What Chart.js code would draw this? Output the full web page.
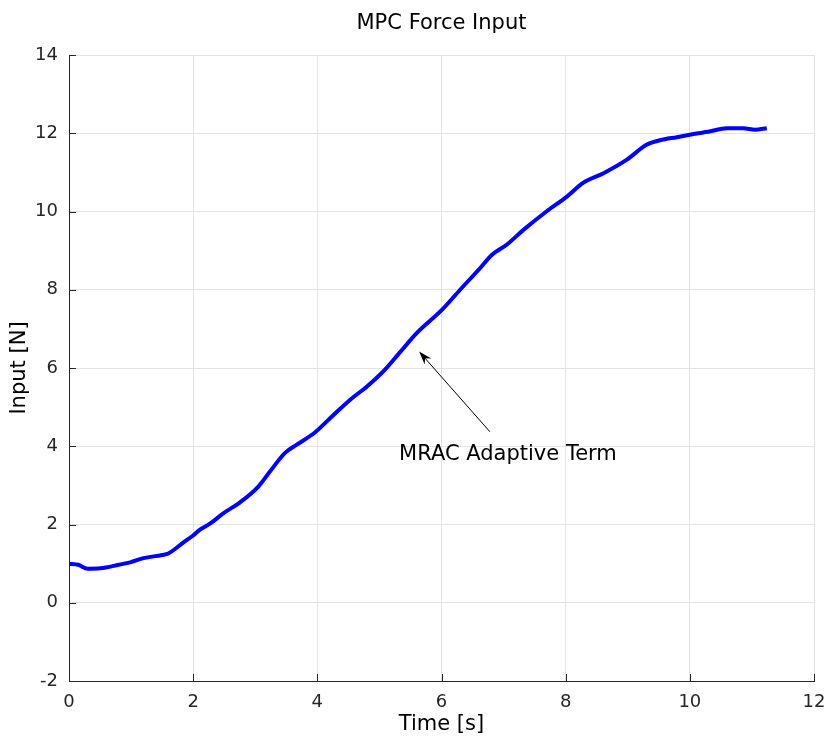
<!DOCTYPE html>
<html>
<head>
<meta charset="utf-8">
<script src="https://cdn.jsdelivr.net/npm/chart.js@4"></script>
<style>
  html, body { margin: 0; padding: 0; background: #fff; }
  #wrap { width: 828px; height: 742px; }
</style>
</head>
<body>
<div id="wrap"><canvas id="mpcChart" width="828" height="742"></canvas></div>
<script>
// values
const timeSec = [0, 0.15, 0.3, 0.5, 0.8, 1.0, 1.2, 1.5, 1.6, 1.85, 2.0, 2.11, 2.27, 2.49, 2.75, 3.05, 3.24, 3.48, 3.67, 3.96, 4.26, 4.53, 4.80, 5.09, 5.33, 5.60, 6.01, 6.30, 6.62, 6.81, 7.05, 7.32, 7.69, 8.02, 8.28, 8.61, 8.98, 9.31, 9.52, 9.79, 10.0, 10.33, 10.59, 10.86, 11.05, 11.24];
const inputN = [1.0, 0.97, 0.87, 0.88, 0.97, 1.04, 1.14, 1.22, 1.26, 1.55, 1.72, 1.87, 2.02, 2.29, 2.56, 2.97, 3.36, 3.83, 4.04, 4.35, 4.80, 5.19, 5.53, 5.96, 6.40, 6.89, 7.49, 8.0, 8.55, 8.89, 9.15, 9.53, 10.0, 10.38, 10.73, 10.98, 11.32, 11.71, 11.82, 11.90, 11.96, 12.05, 12.13, 12.13, 12.09, 12.13];
const xTicks = [0, 2, 4, 6, 8, 10, 12];
const yTicks = [-2, 0, 2, 4, 6, 8, 10, 12, 14];
const noteText = 'MRAC Adaptive Term';
const noteTextAt = [7.07, 3.80];
const noteArrowFrom = [6.78, 4.37];
const noteArrowTo = [5.64, 6.42];

const FONT = 'DejaVu Sans';
const AXIS_COLOR = '#262626';
const GRID_COLOR = '#e3e3e3';

const points = timeSec.map((t, i) => ({ x: t, y: inputN[i] }));

// MATLAB-style inward ticks plus the annotation arrow
const extras = {
    id: 'extras',
    afterDraw(chart) {
        const ctx = chart.ctx;
        const xs = chart.scales.x, ys = chart.scales.y;
        const area = chart.chartArea;
        ctx.save();
        ctx.strokeStyle = AXIS_COLOR;
        ctx.lineWidth = 1;
        ctx.beginPath();
        xTicks.forEach(v => {
            const px = Math.round(xs.getPixelForValue(v)) + 0.5;
            ctx.moveTo(px, area.bottom);
            ctx.lineTo(px, area.bottom - 7);
        });
        yTicks.forEach(v => {
            const py = Math.round(ys.getPixelForValue(v)) + 0.5;
            ctx.moveTo(area.left, py);
            ctx.lineTo(area.left + 7, py);
        });
        ctx.stroke();

        // arrow
        const x1 = xs.getPixelForValue(noteArrowFrom[0]), y1 = ys.getPixelForValue(noteArrowFrom[1]);
        const x2 = xs.getPixelForValue(noteArrowTo[0]), y2 = ys.getPixelForValue(noteArrowTo[1]);
        const ang = Math.atan2(y2 - y1, x2 - x1);
        ctx.strokeStyle = '#000';
        ctx.fillStyle = '#000';
        ctx.beginPath();
        ctx.moveTo(x1, y1);
        ctx.lineTo(x2 - 8 * Math.cos(ang), y2 - 8 * Math.sin(ang));
        ctx.stroke();
        ctx.beginPath();
        ctx.moveTo(x2, y2);
        ctx.lineTo(x2 - 14 * Math.cos(ang - 0.32), y2 - 14 * Math.sin(ang - 0.32));
        ctx.lineTo(x2 - 9 * Math.cos(ang), y2 - 9 * Math.sin(ang));
        ctx.lineTo(x2 - 14 * Math.cos(ang + 0.32), y2 - 14 * Math.sin(ang + 0.32));
        ctx.closePath();
        ctx.fill();

        ctx.font = '21px "' + FONT + '"';
        ctx.textAlign = 'center';
        ctx.textBaseline = 'middle';
        ctx.fillText(noteText, xs.getPixelForValue(noteTextAt[0]), ys.getPixelForValue(noteTextAt[1]));
        ctx.restore();
    }
};

new Chart(document.getElementById('mpcChart'), {
    type: 'scatter',
    data: {
        datasets: [{
            label: 'Input',
            data: points,
            showLine: true,
            borderColor: '#0000ff',
            borderWidth: 4,
            pointRadius: 0,
            cubicInterpolationMode: 'monotone',
            fill: false
        }]
    },
    options: {
        responsive: false,
        animation: false,
        layout: { padding: { left: 0, right: 14, top: 0, bottom: 0 } },
        plugins: {
            legend: { display: false },
            tooltip: { enabled: false },
            title: {
                display: true,
                fullSize: false,
                text: 'MPC Force Input',
                color: '#000',
                font: { family: FONT, size: 21, weight: 'normal' },
                padding: { top: 11, bottom: 18.8 }
            }
        },
        scales: {
            x: {
                type: 'linear',
                min: 0,
                max: 12,
                afterFit: s => { s.height = 61; s.paddingLeft = 0; s.paddingRight = 0; },
                afterBuildTicks: s => { s.ticks = xTicks.map(v => ({ value: v })); },
                ticks: { color: AXIS_COLOR, font: { family: FONT, size: 18 }, padding: 11, maxRotation: 0 },
                grid: { color: GRID_COLOR, drawTicks: false },
                border: { color: AXIS_COLOR, width: 1 },
                title: {
                    display: true,
                    text: 'Time [s]',
                    color: '#000',
                    font: { family: FONT, size: 21 },
                    padding: { top: 0, bottom: 5 }
                }
            },
            y: {
                type: 'linear',
                min: -2,
                max: 14,
                afterFit: s => { s.width = 69; s.paddingTop = 0; s.paddingBottom = 0; },
                afterBuildTicks: s => { s.ticks = yTicks.map(v => ({ value: v })); },
                ticks: { color: AXIS_COLOR, font: { family: FONT, size: 18 }, padding: 11 },
                grid: { color: GRID_COLOR, drawTicks: false },
                border: { color: AXIS_COLOR, width: 1 },
                title: {
                    display: true,
                    text: 'Input [N]',
                    color: '#000',
                    font: { family: FONT, size: 21 },
                    padding: { top: 7, bottom: 0 }
                }
            }
        }
    },
    plugins: [extras]
});
</script>
</body>
</html>
